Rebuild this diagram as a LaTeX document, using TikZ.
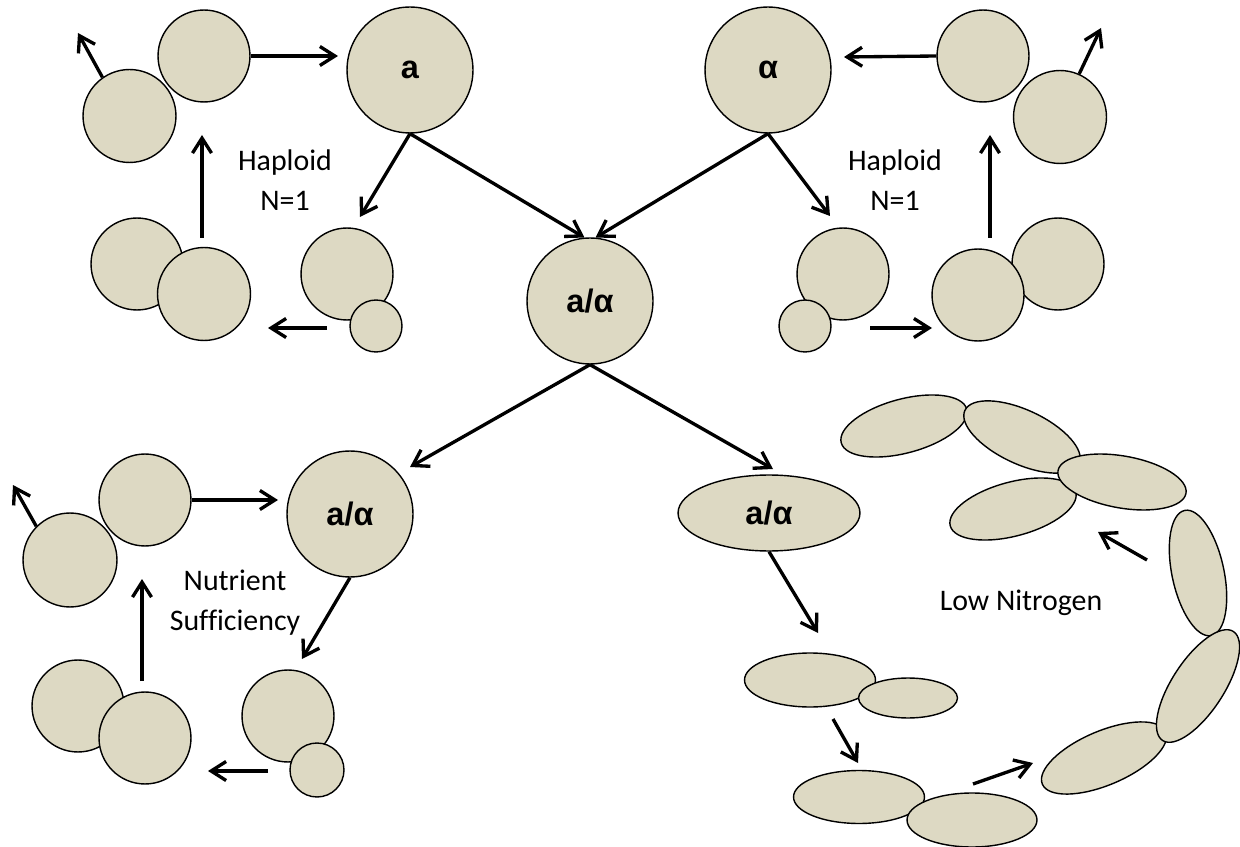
\documentclass[tikz,border=0pt]{standalone}
\usepackage{fontspec}
\setmainfont{Carlito}[Ligatures=NoCommon]
\newfontfamily\labelfont{Liberation Sans}
\usetikzlibrary{arrows.meta,shapes.geometric}
\definecolor{cellfill}{HTML}{DDD9C3}

\begin{document}
\begin{tikzpicture}[x=0.02cm,y=-0.02cm,
  cell/.style={circle,draw=black,line width=0.8pt,fill=cellfill,minimum size=#1*0.04cm,inner sep=0pt},
  ell/.style n args={3}{ellipse,draw=black,line width=0.8pt,fill=cellfill,
    minimum width=#1*0.04cm,minimum height=#2*0.04cm,inner sep=0pt,rotate=#3},
  arr/.style={line width=1.9pt,-{Straight Barb[length=3mm,width=3.8mm]}},
  tag/.style={font=\labelfont\bfseries\fontsize{18.5}{20}\selectfont},
  note/.style={font=\fontsize{17}{22.8}\selectfont,align=center}]

\fill[white] (0,0) rectangle (1240,847);
\useasboundingbox (0,0) rectangle (1240,847);

% ---- diploid cell in the middle
\node[cell=63,tag] (ac) at (590,301) {a/α};

% ---- haploid a cycle (top left)
\node[cell=46] (tlA) at (204,56) {};
\node[cell=46.5] (tlB) at (129.5,116) {};
\node[cell=63,tag] (a) at (410,70) {a};
\node[cell=46] (tlC) at (347,274) {};
\node[cell=26] (tlD) at (376,326) {};
\node[cell=46] (tlE) at (137,264) {};
\node[cell=46.5] (tlF) at (204,294) {};
\node[note] (tlT) at (285,180) {Haploid\\N=1};

\coordinate (tlB1) at (78,33);
\coordinate (tlA1) at (338,56);
\coordinate (a1) at (360,217);
\coordinate (tlC0) at (327,328);
\coordinate (tlC1) at (268,328);
\coordinate (tlF0) at (202,238);
\coordinate (tlF1) at (202,135);

\draw[arr] (tlB.125) -- (tlB1);
\draw[arr] (tlA.east) -- (tlA1);
\draw[arr] (a.south) -- (a1);
\draw[arr] (a.south) -- (ac.95);
\draw[arr] (tlC0) -- (tlC1);
\draw[arr] (tlF0) -- (tlF1);

% ---- haploid alpha cycle (top right)
\node[cell=63,tag] (al) at (768,70) {α};
\node[cell=46] (trA) at (983,56) {};
\node[cell=46.5] (trB) at (1060,117) {};
\node[cell=46] (trC) at (843,274) {};
\node[cell=26] (trD) at (805,326) {};
\node[cell=46] (trF) at (1058,264) {};
\node[cell=46] (trE) at (978,295) {};
\node[note] (trT) at (895,180) {Haploid\\N=1};

\coordinate (trA1) at (844,57);
\coordinate (al1) at (830,216);
\coordinate (trB1) at (1101,28);
\coordinate (trC0) at (870,328);
\coordinate (trC1) at (932,328);
\coordinate (trE0) at (990,238);
\coordinate (trE1) at (990,135);

\draw[arr] (trA.west) -- (trA1);
\draw[arr] (al.south) -- (al1);
\draw[arr] (al.south) -- (ac.85);
\draw[arr] (trB.66) -- (trB1);
\draw[arr] (trC0) -- (trC1);
\draw[arr] (trE0) -- (trE1);

% ---- diploid budding (bottom left)
\node[cell=63,tag] (D) at (350,514) {a/α};
\node[cell=46] (blA) at (145,500) {};
\node[cell=47] (blB) at (70,560) {};
\node[cell=46] (blC) at (288,716) {};
\node[cell=27] (blD) at (317,770) {};
\node[cell=46] (blE) at (78,706) {};
\node[cell=46] (blF) at (145,738) {};
\node[note] (blT) at (235,603) {Nutrient\\Sufficiency};

\coordinate (D0) at (410,467);
\coordinate (blB1) at (13,485);
\coordinate (blA1) at (278,500);
\coordinate (D1) at (302,659);
\coordinate (blC0) at (268,771);
\coordinate (blC1) at (208,771);
\coordinate (blF0) at (142,681);
\coordinate (blF1) at (142,579);

\draw[arr] (ac.south) -- (D0);
\draw[arr] (blB.135) -- (blB1);
\draw[arr] (blA.east) -- (blA1);
\draw[arr] (D.south) -- (D1);
\draw[arr] (blC0) -- (blC1);
\draw[arr] (blF0) -- (blF1);

% ---- pseudohyphal growth (bottom right)
\node[ell={91}{38}{0},tag] (E) at (769,513) {a/α};
\node[ell={65.5}{27}{0}] (H1) at (810,680) {};
\node[ell={49.5}{20}{0}] (H2) at (908,698) {};
\node[ell={65.5}{26.5}{0}] (I1) at (859,797) {};
\node[ell={65}{27}{0}] (I2) at (972,820) {};
\node[ell={67}{27}{23}] (J1) at (1104,758) {};
\node[ell={64}{26}{102}] (J3) at (1198,573) {};
\node[ell={65}{26}{57}] (J2) at (1198,686) {};
\node[ell={65}{27}{15}] (K4) at (904,426) {};
\node[ell={63}{27}{-25}] (K3) at (1022,437) {};
\node[ell={65}{27}{15}] (K1) at (1013,509) {};
\node[ell={65}{26}{-10}] (K2) at (1122,482) {};
\node[note] (brT) at (1021,603) {Low Nitrogen};

\coordinate (E0) at (773,469);
\coordinate (E1) at (818,633);
\coordinate (H0) at (833,719);
\coordinate (Hx) at (858,763);
\coordinate (I0) at (973,784);
\coordinate (Ix) at (1033,763);
\coordinate (J0) at (1147,560);
\coordinate (Jx) at (1098,532);

\draw[arr] (ac.south) -- (E0);
\draw[arr] (E.south) -- (E1);
\draw[arr] (H0) -- (Hx);
\draw[arr] (I0) -- (Ix);
\draw[arr] (J0) -- (Jx);
\end{tikzpicture}
\end{document}
